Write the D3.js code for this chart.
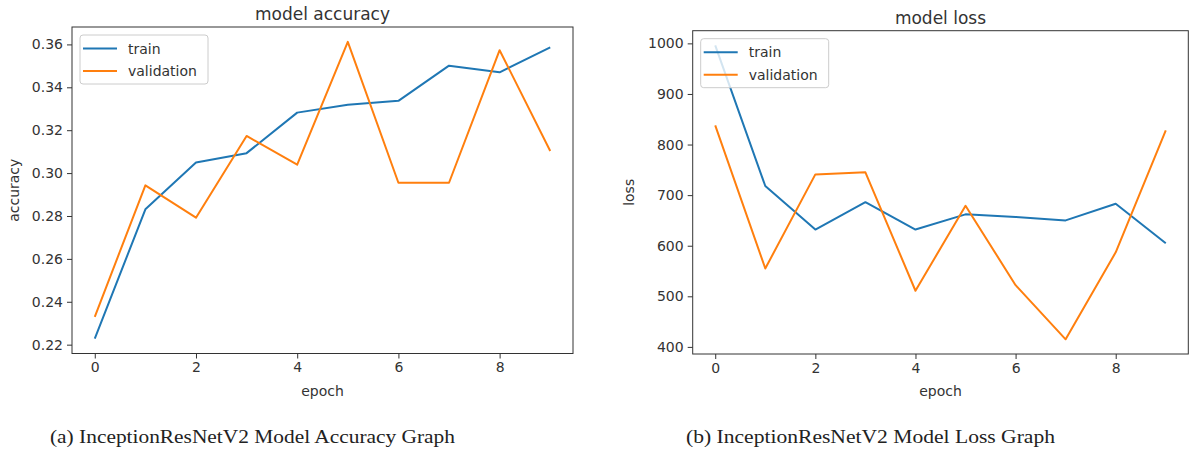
<!doctype html>
<meta charset="utf-8">
<style>
  body { margin: 0; background: #fff; }
  svg text { font-family: "DejaVu Sans", sans-serif; fill: #333; }
  .caption { font-family: "Liberation Serif", "DejaVu Serif", serif; fill: #222; }
</style>
<body>
<script src="https://cdn.jsdelivr.net/npm/d3@7"></script>
<script>

const epochs = [0, 1, 2, 3, 4, 5, 6, 7, 8, 9];

// accuracy per epoch
const accTrain = [0.2228, 0.2831, 0.3049, 0.3093, 0.3282, 0.3319, 0.3337, 0.3501, 0.3470, 0.3586];
const accVal   = [0.2330, 0.2943, 0.2792, 0.3173, 0.3039, 0.3612, 0.2955, 0.2955, 0.3573, 0.3103];

// loss per epoch
const lossTrain = [996, 718, 632, 686, 632, 662, 657, 650, 683, 605];
const lossVal   = [838, 555, 741, 745, 511, 679, 522, 415, 587, 828];

const epochTicks = [0, 2, 4, 6, 8];
const accTicks = [0.22, 0.24, 0.26, 0.28, 0.30, 0.32, 0.34, 0.36];
const lossTicks = [400, 500, 600, 700, 800, 900, 1000];

const seriesNames = ["train", "validation"];
const colors = ["#1f77b4", "#ff7f0e"];

const width = 1192, height = 455;

let svg = d3.select("body").append("svg")
    .attr("width", width)
    .attr("height", height);

// matplotlib style 5% margin on both axes
function padded(lo, hi) {
  let m = (hi - lo) * 0.05;
  return [lo - m, hi + m];
}

function drawPanel(p) {
  let x = d3.scaleLinear()
      .domain(padded(0, epochs.length - 1))
      .range([p.left, p.right]);

  let all = p.train.concat(p.val);
  let y = d3.scaleLinear()
      .domain(padded(d3.min(all), d3.max(all)))
      .range([p.bottom, p.top]);

  let g = svg.append("g");

  // x axis
  let xa = g.append("g")
      .attr("transform", "translate(0," + p.bottom + ")")
      .call(d3.axisBottom(x).tickValues(epochTicks).tickFormat(d3.format("d")).tickSize(5).tickPadding(4));
  xa.select(".domain").remove();

  // y axis
  let ya = g.append("g")
      .attr("transform", "translate(" + p.left + ",0)")
      .call(d3.axisLeft(y).tickValues(p.ticks).tickFormat(p.fmt).tickSize(5).tickPadding(4));
  ya.select(".domain").remove();

  g.selectAll(".tick line").attr("stroke", "#333");
  g.selectAll(".tick text").attr("font-size", 14).attr("fill", "#333");

  // lines
  let line = d3.line()
      .x((d, i) => x(epochs[i]))
      .y(d => y(d));

  [p.train, p.val].forEach((s, i) => {
    g.append("path")
        .datum(s)
        .attr("fill", "none")
        .attr("stroke", colors[i])
        .attr("stroke-width", 2)
        .attr("stroke-linejoin", "round")
        .attr("d", line);
  });

  // frame
  g.append("rect")
      .attr("x", p.left).attr("y", p.top)
      .attr("width", p.right - p.left)
      .attr("height", p.bottom - p.top)
      .attr("fill", "none")
      .attr("stroke", "#333")
      .attr("stroke-width", 1);

  // title + labels
  g.append("text")
      .attr("x", (p.left + p.right) / 2)
      .attr("y", p.top - 7)
      .attr("text-anchor", "middle")
      .attr("font-size", 17)
      .text(p.title);

  g.append("text")
      .attr("x", (p.left + p.right) / 2)
      .attr("y", 396)
      .attr("text-anchor", "middle")
      .attr("font-size", 14)
      .text("epoch");

  g.append("text")
      .attr("transform", "translate(" + p.ylabelX + "," + ((p.top + p.bottom) / 2) + ") rotate(-90)")
      .attr("text-anchor", "middle")
      .attr("font-size", 14)
      .text(p.ylabel);

  // legend
  let lg = g.append("g").attr("transform", "translate(" + (p.left + 8) + "," + (p.top + 8) + ")");
  lg.append("rect")
      .attr("width", 128).attr("height", 49)
      .attr("rx", 3)
      .attr("fill", "#fff").attr("fill-opacity", 0.8)
      .attr("stroke", "#ccc");
  seriesNames.forEach((n, i) => {
    let yy = 13.5 + i * 22.5;
    lg.append("line")
        .attr("x1", 3).attr("x2", 37)
        .attr("y1", yy).attr("y2", yy)
        .attr("stroke", colors[i]).attr("stroke-width", 2);
    lg.append("text")
        .attr("x", 48).attr("y", yy + 5)
        .attr("font-size", 14)
        .text(n);
  });

  // caption
  svg.append("text")
      .attr("class", "caption")
      .attr("x", p.capX)
      .attr("y", 443)
      .attr("text-anchor", "middle")
      .attr("font-size", 18)
      .attr("textLength", p.capW)
      .attr("lengthAdjust", "spacingAndGlyphs")
      .text(p.caption);
}

drawPanel({
  left: 72, right: 573, top: 27, bottom: 353.5,
  train: accTrain, val: accVal,
  ticks: accTicks, fmt: d3.format(".2f"),
  title: "model accuracy", ylabel: "accuracy", ylabelX: 19,
  caption: "(a) InceptionResNetV2 Model Accuracy Graph", capX: 252.5, capW: 405
});

drawPanel({
  left: 692.7, right: 1188.3, top: 30.7, bottom: 354,
  train: lossTrain, val: lossVal,
  ticks: lossTicks, fmt: d3.format("d"),
  title: "model loss", ylabel: "loss", ylabelX: 634,
  caption: "(b) InceptionResNetV2 Model Loss Graph", capX: 870.5, capW: 369
});

</script>
</body>
